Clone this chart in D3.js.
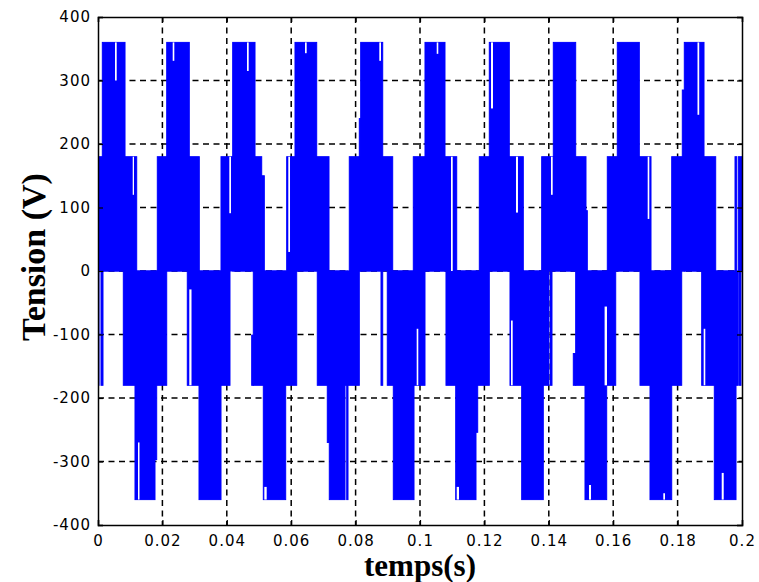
<!DOCTYPE html>
<meta charset="utf-8">
<style>
body { margin: 0; background: #fff; }
.tick text { font-family: "DejaVu Sans", sans-serif; font-size: 15px; letter-spacing: 1px; fill: #000; }
.label { font-family: "Liberation Serif", "Times New Roman", serif; font-weight: bold; fill: #000; }
</style>
<svg width="759" height="582"></svg>
<script src="https://cdn.jsdelivr.net/npm/d3@7"></script>
<script>

// voltage levels of the inverter (V)
var levelLow = 180,
    levelHigh = 360;

// switching bands [t start, t end] in seconds
var posLow = [[0, 0.01202], [0.01842, 0.03146], [0.03820, 0.05084], [0.05860, 0.07174], [0.07804, 0.09152],
              [0.09792, 0.11140], [0.11842, 0.13208], [0.13779, 0.15155], [0.15817, 0.17174], [0.17817, 0.19183],
              [0.19783, 0.19835], [0.19885, 0.2]];
var posHigh = [[0.00134, 0.00839], [0.02134, 0.02835], [0.04183, 0.04876], [0.06118, 0.06792], [0.08158, 0.08842],
               [0.10155, 0.10776], [0.12152, 0.12773], [0.14140, 0.14835], [0.16127, 0.16811], [0.18208, 0.18820]];
var negLow = [[0, 0.00031], [0.00093, 0.00155], [0.00786, 0.02134], [0.02773, 0.04099], [0.04823, 0.06171],
              [0.06810, 0.08115], [0.08789, 0.08842], [0.08984, 0.10155], [0.10807, 0.12152], [0.12795, 0.14006],
              [0.14053, 0.14099], [0.14835, 0.16078], [0.16832, 0.18127], [0.18748, 0.19885], [0.19922, 0.19969]];
var negHigh = [[0.01149, 0.01770], [0.03137, 0.03820], [0.05134, 0.05829], [0.07183, 0.07671], [0.07724, 0.07764],
               [0.09171, 0.09814], [0.11109, 0.11739], [0.13158, 0.13829], [0.15124, 0.15798], [0.17143, 0.17817],
               [0.19140, 0.19814]];

// partial columns [t start, t end, v from, v to]
var steps = [[0.05084, 0.05165, 0, 150], [0.15155, 0.15196, 0, 95], [0.08115, 0.08158, 0, 240],
             [0.18146, 0.18208, 0, 285], [0.04773, 0.04823, -180, -101], [0.14761, 0.14835, -180, -130],
             [0.01770, 0.01823, 0, -297], [0.07121, 0.07183, 0, -270], [0.11739, 0.11792, 0, -254]];

// white gaps inside the bands [t start, t end, v from, v to]
var gaps = [[0.01078, 0.01118, 120, 180], [0.04078, 0.04130, 91, 180], [0.05910, 0.05963, 30, 180],
            [0.10963, 0.11016, 0, 180], [0.12981, 0.13043, 92, 180], [0.14068, 0.14121, 120, 180],
            [0.17071, 0.17121, 82, 180],
            [0.00528, 0.00581, 300, 360], [0.02320, 0.02370, 331, 360], [0.04627, 0.04680, 315, 360],
            [0.06429, 0.06481, 343, 360], [0.08736, 0.08789, 331, 360], [0.10519, 0.10568, 342, 360],
            [0.12205, 0.12267, 256, 360], [0.18618, 0.18671, 246, 360],
            [0.02835, 0.02904, -180, -29], [0.09897, 0.09947, -180, -91], [0.12826, 0.12879, -180, -78],
            [0.15733, 0.15807, -180, -56], [0.18810, 0.18860, -180, -91],
            [0.01242, 0.01289, -360, -270], [0.05165, 0.05239, -360, -340], [0.11140, 0.11211, -360, -340],
            [0.15248, 0.15311, -360, -337], [0.17556, 0.17609, -360, -350], [0.19370, 0.19432, -360, -318]];

var xTicks = [0, 0.02, 0.04, 0.06, 0.08, 0.1, 0.12, 0.14, 0.16, 0.18, 0.2];
var yTicks = [-400, -300, -200, -100, 0, 100, 200, 300, 400];

var svg = d3.select("svg");

var x = d3.scaleLinear().domain([0, 0.2]).range([98, 742]),
    y = d3.scaleLinear().domain([-400, 400]).range([525, 17]);

svg.append("defs").append("clipPath").attr("id", "clip")
  .append("rect").attr("x", 98).attr("y", 17).attr("width", 644).attr("height", 508);

// grid
var grid = svg.append("g").attr("stroke", "#000").attr("stroke-width", 1.5).attr("stroke-dasharray", "6,4.5");
grid.selectAll(".hg").data(yTicks.slice(1, -1)).enter().append("line")
    .attr("x1", x(0)).attr("x2", x(0.2))
    .attr("y1", function(d) { return y(d); }).attr("y2", function(d) { return y(d); });
grid.selectAll(".vg").data(xTicks.slice(1, -1)).enter().append("line")
    .attr("y1", y(400)).attr("y2", y(-400))
    .attr("x1", function(d) { return x(d); }).attr("x2", function(d) { return x(d); });

var plot = svg.append("g").attr("clip-path", "url(#clip)");

function bands(data, v0, v1, color, strokeIt) {
  var g = plot.append("g");
  g.selectAll("rect").data(data).enter().append("rect")
    .attr("x", function(d) { return x(d[0]); })
    .attr("width", function(d) { return Math.max(x(d[1]) - x(d[0]), 1); })
    .attr("y", function(d) { return y(Math.max(v0(d), v1(d))); })
    .attr("height", function(d) { return Math.abs(y(v0(d)) - y(v1(d))); })
    .attr("fill", color)
    .attr("stroke", strokeIt ? color : "none")
    .attr("stroke-width", strokeIt ? 1 : 0);
}

var blue = "#0000ff";
bands(posLow, function() { return 0; }, function() { return levelLow; }, blue, true);
bands(posHigh, function() { return 0; }, function() { return levelHigh; }, blue, true);
bands(negLow, function() { return 0; }, function() { return -levelLow; }, blue, true);
bands(negHigh, function() { return 0; }, function() { return -levelHigh; }, blue, true);
bands(steps, function(d) { return d[2]; }, function(d) { return d[3]; }, blue, true);
bands(gaps, function(d) { return d[2]; }, function(d) { return d[3]; }, "#fff", false);

// axes, ticks inside on all four sides
var fmtX = function(d) { return String(+d.toFixed(2)); },
    fmtY = function(d) { return String(d); };

svg.append("g").attr("transform", "translate(0,525)")
  .call(d3.axisBottom(x).tickValues(xTicks).tickSize(-5).tickPadding(10).tickFormat(fmtX));
svg.append("g").attr("transform", "translate(0,17)")
  .call(d3.axisTop(x).tickValues(xTicks).tickSize(-5).tickFormat(""));
svg.append("g").attr("transform", "translate(98,0)")
  .call(d3.axisLeft(y).tickValues(yTicks).tickSize(-5).tickPadding(7).tickFormat(fmtY));
svg.append("g").attr("transform", "translate(742,0)")
  .call(d3.axisRight(y).tickValues(yTicks).tickSize(-5).tickFormat(""));

svg.selectAll(".domain").attr("stroke", "#000").attr("stroke-width", 1.5);
svg.selectAll(".tick line").attr("stroke", "#000").attr("stroke-width", 1.2);

svg.append("text").attr("class", "label")
  .attr("transform", "translate(45,257) rotate(-90)")
  .attr("text-anchor", "middle").style("font-size", "34px")
  .text("Tension (V)");

svg.append("text").attr("class", "label")
  .attr("x", 420).attr("y", 576)
  .attr("text-anchor", "middle").style("font-size", "31px")
  .text("temps(s)");

</script>
